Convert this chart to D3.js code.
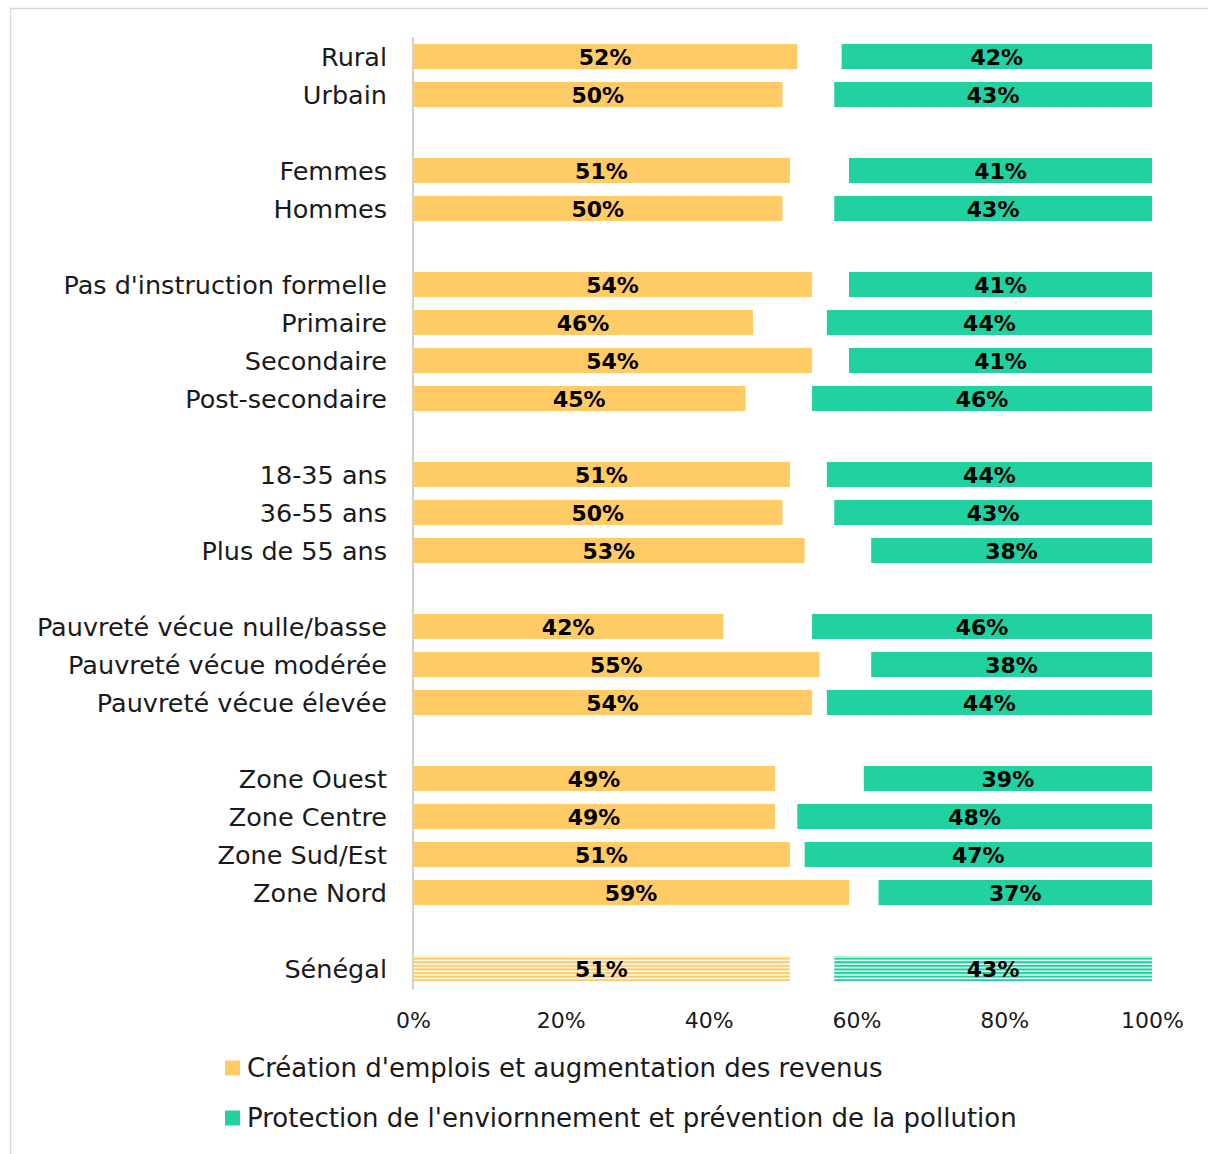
<!DOCTYPE html>
<html><head><meta charset="utf-8">
<script src="https://cdn.jsdelivr.net/npm/d3@7"></script>
<style>body{margin:0;background:#fff;}svg{display:block;}</style>
</head><body>
<script>
const categories = ["Rural","Urbain",null,"Femmes","Hommes",null,"Pas d'instruction formelle","Primaire","Secondaire","Post-secondaire",null,"18-35 ans","36-55 ans","Plus de 55 ans",null,"Pauvreté vécue nulle/basse","Pauvreté vécue modérée","Pauvreté vécue élevée",null,"Zone Ouest","Zone Centre","Zone Sud/Est","Zone Nord",null,"Sénégal"];
const emplois = [52,50,51,50,54,46,54,45,51,50,53,42,55,54,49,49,51,59,51];
const environnement = [42,43,41,43,41,44,41,46,44,43,38,46,38,44,39,48,47,37,43];
const tickValues = [0,20,40,60,80,100];
const seriesNames = ["Création d'emplois et augmentation des revenus","Protection de l'enviornnement et prévention de la pollution"];
const colors = ["#FFCB66","#22D1A0"];
const totalLabel = "Sénégal";

const W=1208,H=1154;
const svg=d3.select("body").append("svg").attr("width",W).attr("height",H);
const FONT="'DejaVu Sans', sans-serif";

// patterns
const defs=svg.append("defs");
colors.forEach((c,i)=>{
  const p=defs.append("pattern").attr("id","hatch"+i).attr("patternUnits","userSpaceOnUse")
    .attr("width",8).attr("height",3.6);
  p.append("rect").attr("width",8).attr("height",3.6).attr("fill","#fff");
  p.append("rect").attr("width",8).attr("height",2.2).attr("fill",c);
});

// frame
svg.append("rect").attr("x",10.5).attr("y",8.5).attr("width",1220).attr("height",1170)
  .attr("fill","none").attr("stroke","#d9d9d9").attr("stroke-width",1.5);

// build rows
const rows=[]; let k=0;
categories.forEach((c,i)=>{ if(c!==null){ rows.push({idx:i,name:c,e:emplois[k],p:environnement[k]}); k++; } });

const x=d3.scaleLinear().domain([0,100]).range([413,1152]);
const y=d3.scaleBand().domain(d3.range(categories.length)).range([37.5,987.5]).paddingInner(0.34).paddingOuter(0.17);

// yellow bars
svg.append("g").selectAll("rect").data(rows).join("rect")
  .attr("x",x(0)).attr("y",d=>y(d.idx)).attr("width",d=>x(d.e)-x(0)).attr("height",y.bandwidth())
  .attr("fill",d=>d.name===totalLabel?"url(#hatch0)":colors[0]);
// green bars
svg.append("g").selectAll("rect").data(rows).join("rect")
  .attr("x",d=>x(100-d.p)).attr("y",d=>y(d.idx)).attr("width",d=>x(100)-x(100-d.p)).attr("height",y.bandwidth())
  .attr("fill",d=>d.name===totalLabel?"url(#hatch1)":colors[1]);

// value labels
const vl=svg.append("g").attr("font-family",FONT).attr("font-weight","bold").attr("font-size",22).attr("fill","#000").attr("text-anchor","middle");
vl.selectAll("text.e").data(rows).join("text").attr("class","e")
  .attr("x",d=>(x(0)+x(d.e))/2).attr("y",d=>y(d.idx)+y.bandwidth()/2+1).attr("dy","0.36em").text(d=>d.e+"%");
vl.selectAll("text.p").data(rows).join("text").attr("class","p")
  .attr("x",d=>(x(100-d.p)+x(100))/2).attr("y",d=>y(d.idx)+y.bandwidth()/2+1).attr("dy","0.36em").text(d=>d.p+"%");

// category labels
svg.append("g").attr("font-family",FONT).attr("font-size",25.5).attr("fill","#1a1a1a").attr("text-anchor","end")
  .selectAll("text").data(rows).join("text")
  .attr("x",387).attr("y",d=>y(d.idx)+y.bandwidth()/2+1).attr("dy","0.33em").text(d=>d.name);

// vertical axis line
svg.append("line").attr("x1",x(0)).attr("x2",x(0)).attr("y1",37).attr("y2",989)
  .attr("stroke","#d0d0d0").attr("stroke-width",2);

// x axis tick labels
const ax=svg.append("g").attr("transform","translate(0,1004)")
  .call(d3.axisBottom(x).tickValues(tickValues).tickFormat(d=>d+"%").tickSize(0).tickPadding(8));
ax.select(".domain").remove();
ax.selectAll("text").attr("font-family",FONT).attr("font-size",22).attr("fill","#1a1a1a").attr("dy","0.71em");

// legend
const lg=svg.append("g").attr("font-family",FONT).attr("font-size",26).attr("fill","#1a1a1a");
seriesNames.forEach((s,i)=>{
  const yy=1068+i*50;
  lg.append("rect").attr("x",225).attr("y",yy-7.5).attr("width",15).attr("height",15).attr("fill",colors[i]);
  lg.append("text").attr("x",247).attr("y",yy).attr("dy","0.35em").text(s);
});
</script>
</body></html>
